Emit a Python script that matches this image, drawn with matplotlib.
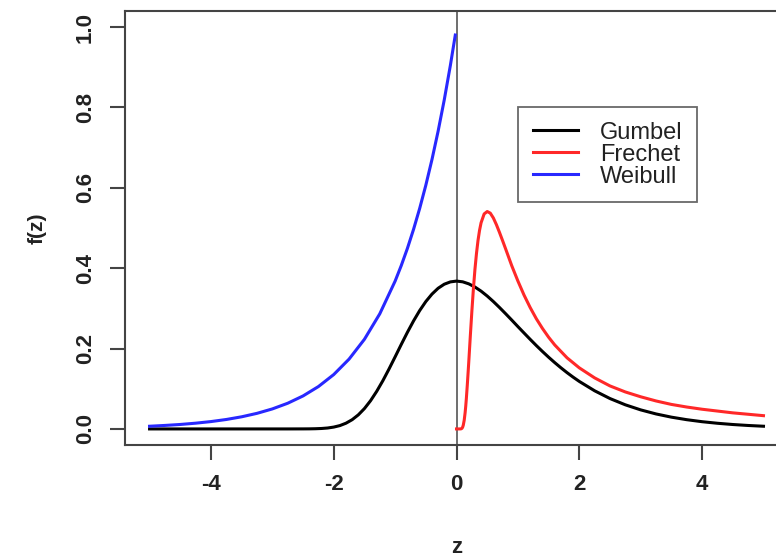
import numpy as np
import matplotlib
matplotlib.use("Agg")
import matplotlib.pyplot as plt

plt.rcParams['font.family'] = ['Liberation Sans', 'DejaVu Sans']
plt.rcParams['axes.unicode_minus'] = False

# values
gumbel_z = [-5, -4.5, -4, -3.5, -3, -2.75, -2.5, -2.4, -2.3, -2.2, -2.1, -2.0, -1.9, -1.8, -1.7,
            -1.6, -1.5, -1.4, -1.3, -1.2, -1.1, -1.0, -0.9, -0.8, -0.7, -0.6, -0.5, -0.4, -0.3,
            -0.2, -0.1, 0.0, 0.1, 0.2, 0.3, 0.4, 0.5, 0.6, 0.7, 0.8, 0.9, 1.0, 1.1, 1.2, 1.3,
            1.4, 1.5, 1.6, 1.7, 1.8, 1.9, 2.0, 2.25, 2.5, 2.75, 3.0, 3.25, 3.5, 3.75, 4.0, 4.25,
            4.5, 4.75, 5.0]
gumbel_f = [0, 0, 0, 0, 0, 0, 0.0001, 0.0002, 0.0005, 0.0011, 0.0023, 0.0046, 0.0083, 0.0143,
            0.0230, 0.0350, 0.0507, 0.0703, 0.0936, 0.1200, 0.1490, 0.1794, 0.2103, 0.2404,
            0.2688, 0.2946, 0.3170, 0.3355, 0.3500, 0.3601, 0.3659, 0.3679, 0.3661, 0.3610,
            0.3531, 0.3429, 0.3307, 0.3170, 0.3022, 0.2867, 0.2708, 0.2546, 0.2387, 0.2229,
            0.2075, 0.1927, 0.1785, 0.1650, 0.1522, 0.1401, 0.1288, 0.1182, 0.0949, 0.0756,
            0.0600, 0.0474, 0.0373, 0.0293, 0.0230, 0.0180, 0.0141, 0.0110, 0.0086, 0.0067]

frechet_z = [0.0, 0.05, 0.07, 0.08, 0.09, 0.1, 0.11, 0.125, 0.14, 0.15, 0.16, 0.175, 0.19, 0.2,
             0.225, 0.25, 0.275, 0.3, 0.325, 0.35, 0.375, 0.4, 0.45, 0.5, 0.55, 0.6, 0.65, 0.7,
             0.75, 0.8, 0.9, 1.0, 1.1, 1.2, 1.3, 1.4, 1.5, 1.6, 1.8, 2.0, 2.25, 2.5, 2.75, 3.0,
             3.25, 3.5, 3.75, 4.0, 4.5, 5.0]
frechet_f = [0, 0, 0.0001, 0.0006, 0.0018, 0.0045, 0.0093, 0.0215, 0.0403, 0.0565, 0.0754, 0.108,
             0.1435, 0.168, 0.2319, 0.293, 0.3487, 0.397, 0.4365, 0.469, 0.4942, 0.513, 0.535,
             0.541, 0.537, 0.525, 0.5082, 0.489, 0.4687, 0.448, 0.406, 0.368, 0.333, 0.302,
             0.2742, 0.250, 0.2282, 0.209, 0.177, 0.152, 0.127, 0.107, 0.092, 0.080, 0.0696,
             0.061, 0.0545, 0.049, 0.040, 0.033]

weibull_z = [-5, -4.75, -4.5, -4.25, -4, -3.75, -3.5, -3.25, -3, -2.75, -2.5, -2.25, -2, -1.75,
             -1.5, -1.25, -1, -0.9, -0.8, -0.7, -0.6, -0.5, -0.4, -0.3, -0.2, -0.1, -0.02]
weibull_f = [0.0067, 0.0087, 0.0111, 0.0143, 0.0183, 0.0235, 0.0302, 0.0388, 0.0498, 0.0639,
             0.0821, 0.1054, 0.1353, 0.1738, 0.2231, 0.2865, 0.3679, 0.4066, 0.4493, 0.4966,
             0.5488, 0.6065, 0.6703, 0.7408, 0.8187, 0.9048, 0.9802]

series = [("Gumbel", gumbel_z, gumbel_f, "black"),
          ("Frechet", frechet_z, frechet_f, "#ff2828"),
          ("Weibull", weibull_z, weibull_f, "#2828ff")]

fig = plt.figure(figsize=(7.76, 5.58), dpi=100)
ax = fig.add_axes([0.1611, 0.2025, 0.8544, 0.7778])

for name, z, f, col in series:
    ax.plot(z, f, color=col, lw=2.2, label=name, solid_joinstyle="round")
ax.axvline(0, color="#555555", lw=1.2, zorder=0)

ax.set_xlim(-5.4, 5.4)
ax.set_ylim(-0.04, 1.04)
ax.set_xticks([-4, -2, 0, 2, 4])
ax.set_yticks([0.0, 0.2, 0.4, 0.6, 0.8, 1.0])
ax.set_yticklabels(["0.0", "0.2", "0.4", "0.6", "0.8", "1.0"], rotation=90, va="center")
ax.tick_params(direction="out", length=11, width=1.5, color="#444444", labelsize=16, pad=10)
for lab in ax.get_xticklabels() + ax.get_yticklabels():
    lab.set_fontweight("bold")
    lab.set_color("#222222")
for s in ax.spines.values():
    s.set_color("#444444")
    s.set_linewidth(1.5)

ax.set_xlabel("z", fontsize=16, fontweight="bold", labelpad=30, color="#222222")
ax.set_ylabel("f(z)", fontsize=15, fontweight="bold", labelpad=20, color="#222222")

leg = ax.legend(loc="upper left", bbox_to_anchor=(0.593, 0.779), fontsize=17, frameon=True,
                fancybox=False, edgecolor="#444444", handlelength=1.9, handletextpad=0.95,
                borderpad=0.62, labelspacing=0.0, borderaxespad=0)
leg.get_frame().set_linewidth(1.3)
for t in leg.get_texts():
    t.set_color("#222222")

fig.savefig("out.png", dpi=100)
